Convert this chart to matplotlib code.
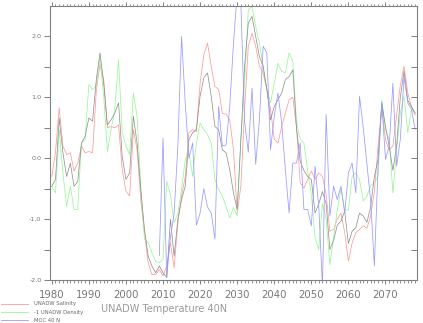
import matplotlib
matplotlib.use("Agg")
import matplotlib.pyplot as plt
from matplotlib.lines import Line2D
import numpy as np

years = list(range(1980, 2079))
moc_years = list(range(2009, 2079))

temperature = [
    -0.46, -0.35, 0.66, 0.09, -0.30, -0.08, -0.46, -0.38, 0.25, 0.36,
    0.66, 0.61, 1.29, 1.73, 1.23, 0.55, 0.63, 0.74, 0.91, 0.03,
    -0.35, -0.24, 0.69, 0.25, -0.51, -1.17, -1.61, -1.77, -1.88, -1.77,
    -1.88, -1.96, -1.00, -1.61, -1.00, -0.68, -0.46, 0.31, 0.42, 0.47,
    1.02, 1.32, 1.40, 1.02, 0.52, 0.47, 0.14, 0.09, -0.19, -0.57,
    -0.84, 0.31, 1.51, 2.22, 2.33, 2.00, 1.67, 1.51, 1.13, 0.63,
    0.85, 0.96, 1.07, 1.29, 1.34, 1.45, 0.50, -0.05, -0.20, -0.30,
    -0.35, -0.90, -0.75, -0.55, -0.75, -1.50, -1.35, -1.10, -1.03, -0.87,
    -1.40, -1.20, -1.14, -0.90, -0.95, -1.05, -0.80, -0.30, -0.02, 0.91,
    0.52, 0.20, -0.20, 0.20, 1.00, 1.43, 0.95, 0.85, 0.74,
]

salinity = [
    -0.30, 0.10, 0.83, 0.20, 0.06, 0.09, -0.21, -0.08, 0.20, 0.09,
    0.11, 0.09, 1.10, 1.54, 1.29, 0.50, 0.52, 0.50, 0.55, -0.19,
    -0.54, -0.62, 0.47, 0.14, -0.68, -1.22, -1.72, -1.91, -1.91, -1.83,
    -1.93, -1.77, -1.39, -1.80, -1.06, -0.62, -0.30, 0.42, 0.47, 0.44,
    1.23, 1.70, 1.89, 1.51, 1.18, 1.13, 0.74, 0.72, 0.63, 0.14,
    -0.90, -0.46, 0.80, 1.84, 2.05, 1.84, 1.51, 1.40, 1.13, 0.80,
    0.31, 0.25, 0.52, 0.74, 0.96, 1.00, 0.50, -0.40, -0.49, -0.35,
    -0.21, -0.35, -0.24, -0.30, -0.60, -1.20, -1.17, -1.00, -0.90, -1.22,
    -1.69, -1.39, -1.22, -1.17, -1.11, -1.15, -0.95, -0.55, 0.20, 0.85,
    0.30, 0.14, 0.20, 0.70, 1.20, 1.51, 1.07, 0.85, 0.71,
]

density_neg = [
    -0.46, -0.57, 0.47, -0.24, -0.79, -0.46, -0.84, -0.84, 0.25, 0.31,
    1.21, 1.13, 1.18, 1.64, 1.02, 0.11, 0.47, 0.80, 1.62, 0.42,
    0.20, 0.06, 1.07, 0.69, -0.46, -1.33, -1.39, -1.55, -1.69, -1.72,
    -1.66, -0.38, -0.60, -1.06, -0.90, -0.51, -0.02, 0.09, -0.30, 0.25,
    0.58, 0.47, 0.39, 0.25, -0.35, -0.51, -0.62, -0.79, -0.98, -0.81,
    -0.95, 0.31, 1.23, 2.44, 2.49, 2.16, 1.89, 1.51, 1.13, 0.91,
    1.23, 1.56, 1.43, 1.40, 1.73, 1.60, 0.60, 0.31, 0.25, -0.20,
    -0.60, -1.30, -1.50, -0.75, -1.00, -1.75, -1.30, -0.85, -0.50, -0.85,
    -0.85, -0.30, -0.24, -0.35, -0.70, -0.62, -0.45, -0.40, -0.30, 0.96,
    0.47, 0.30, -0.57, 0.14, 0.74, 1.02, 0.42, 0.80, 0.74,
]

moc_40n = [
    -1.60, 0.33, -1.96, -1.30, -0.90, 0.20, 2.00, 0.90, 0.00, 0.25,
    -1.10, -0.90, -0.50, -0.80, -0.90, -1.33, 0.85, 0.20, 0.22, 0.85,
    1.89, 2.70, 2.55, 0.60, 0.10, 1.15, -0.10, 0.63, 1.84, 1.73,
    0.14, 0.69, 1.07, 0.58, -0.19, -0.90, -0.08, -0.08, 0.25, -0.84,
    -0.84, -1.11, -0.13, -0.79, -2.10, 0.72, -0.95, -0.46, -0.68, -0.46,
    -0.90, -0.24, -0.08, -0.57, 1.02, 0.50, -0.10, -0.70, -1.77, -0.13,
    0.91, -0.02, 0.20, 1.23, -0.13, 0.31, 1.34, 0.91, 0.80, 0.47,
]

legend_labels = ["UNADW Salinity", "-1 UNADW Density", "MOC 40 N"]
title = "UNADW Temperature 40N"
xtick_values = list(range(1980, 2071, 10))
ytick_values = [-2.0, -1.0, 0.0, 1.0, 2.0]

c_red = "#ff9a9a"
c_green = "#9af59a"
c_blue = "#9a9aff"
c_gray = "#8a8a8a"
axis_col = "#808080"

fig = plt.figure(figsize=(4.23, 3.23), dpi=100)
ax = fig.add_axes([50.3 / 423, 43 / 323, (417 - 50.3) / 423, (280 - 6) / 323])

ax.plot(years, salinity, color=c_red, lw=0.55)
ax.plot(years, density_neg, color=c_green, lw=0.55)
ax.plot(years, temperature, color=c_gray, lw=0.5)
ax.plot(moc_years, moc_40n, color=c_blue, lw=0.55)

ax.set_xlim(1979.6, 2078.5)
ax.set_ylim(-2.0, 2.5)

for s in ax.spines.values():
    s.set_color(axis_col)
    s.set_linewidth(0.8)

ax.set_xticks(xtick_values)
ax.set_xticklabels([str(v) for v in xtick_values])
ax.set_xticks(range(1980, 2079), minor=True)
yt = np.arange(-2.0, 2.01, 0.5)
ax.set_yticks(yt)
ax.set_yticklabels([f"{v:.1f}" if v in ytick_values else "" for v in yt])

ax.tick_params(axis="x", which="major", direction="out", length=3.2, width=0.7,
               color=axis_col, labelcolor="#777777", labelsize=7.3, pad=4,
               top=True, bottom=True)
ax.tick_params(axis="x", which="minor", direction="out", length=1.8, width=0.6,
               color=axis_col, top=True, bottom=True)
ax.tick_params(axis="y", which="major", direction="out", length=4.3, width=0.7,
               color=axis_col, labelcolor="#777777", labelsize=4.6, pad=2,
               left=True, right=False)

# right-side inward ticks
ax2 = ax.twinx()
ax2.set_ylim(ax.get_ylim())
ax2.set_yticks(yt)
ax2.set_yticklabels([])
ax2.tick_params(axis="y", direction="in", length=4.3, width=0.7, color=axis_col)
for s in ax2.spines.values():
    s.set_visible(False)

fig.text(164.5 / 423, 1 - 309.5 / 323, title, color="#9a9a9a", fontsize=7,
         ha="center", va="center")

leg_y = [304, 312.3, 320.3]
leg_c = [c_red, c_green, c_blue]
for lbl, yy, cc in zip(legend_labels, leg_y, leg_c):
    fy = 1 - yy / 323
    fig.add_artist(Line2D([0.5 / 423, 28 / 423], [fy, fy], color=cc, lw=0.6,
                          transform=fig.transFigure))
    fig.text(34 / 423, fy, lbl, color="#666666", fontsize=3.8, ha="left", va="center")

fig.savefig("out.png", dpi=100)
